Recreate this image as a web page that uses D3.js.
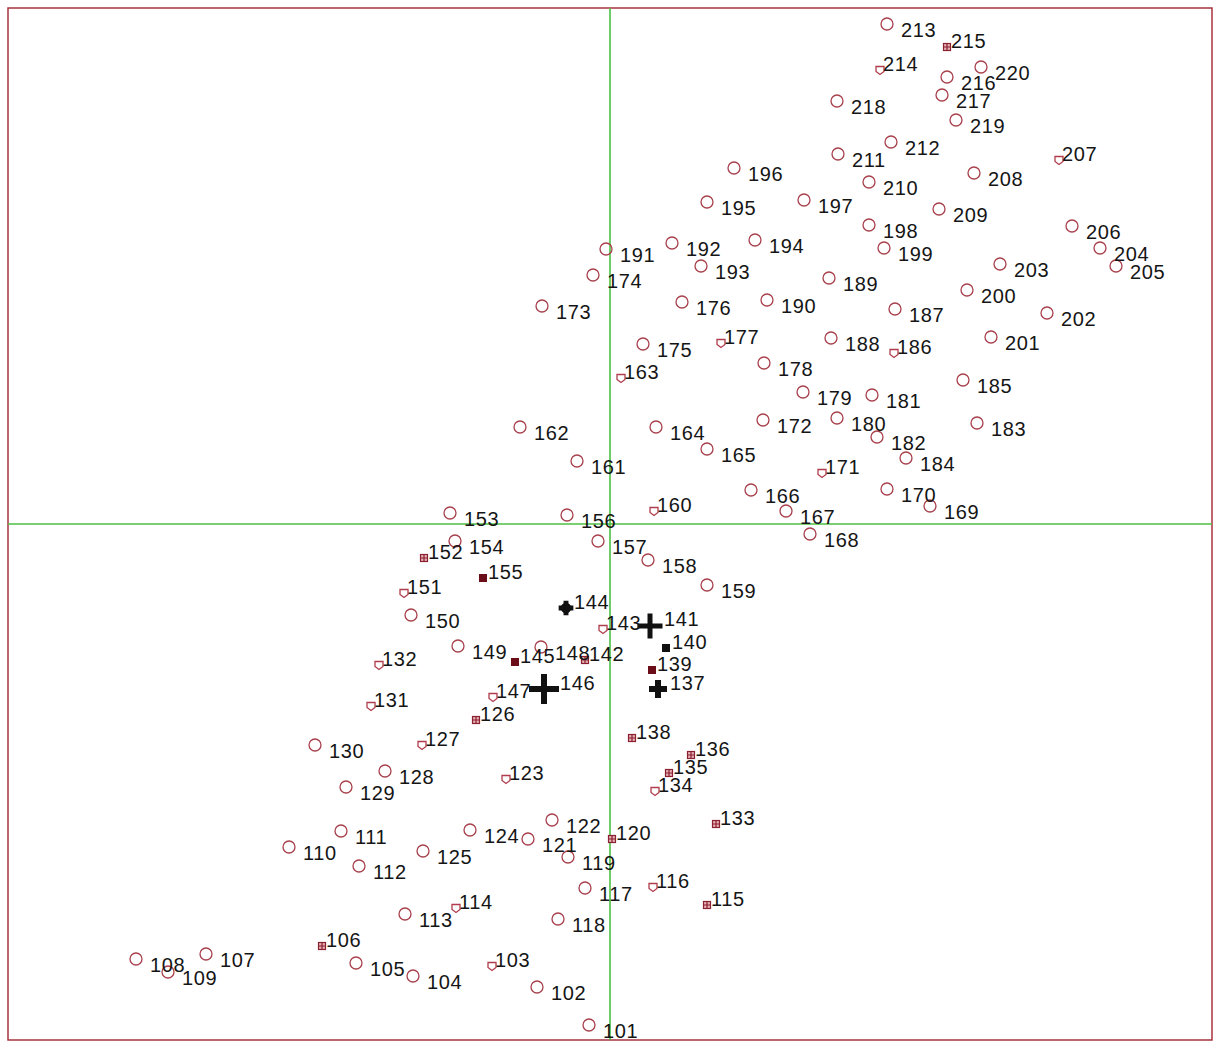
<!DOCTYPE html>
<html>
<head>
<meta charset="utf-8">
<script src="https://cdn.jsdelivr.net/npm/d3@7/dist/d3.min.js"></script>
<style>
  body { margin: 0; background: #fff; }
  .lbl { font-family: "Liberation Sans", Arial, sans-serif; font-size: 20px; fill: #151515; letter-spacing: 0.6px; }
</style>
</head>
<body>
<div class="chart"></div>
<script>
var svgWidth = 1217;
var svgHeight = 1041;

var margin = { top: 8, right: 5, bottom: 1, left: 8 };
var width = svgWidth - margin.left - margin.right;
var height = svgHeight - margin.top - margin.bottom;

// point ids (101..220)
var ids = d3.range(101, 221);

// x coordinates, one per id
var xVals = [
  -0.21, -0.73, -1.18, -1.97, -2.54, -2.88, -4.04, -4.74, -4.42, -3.21,
  -2.69, -2.51, -2.05, -1.54,  0.97,  0.43, -0.25, -0.52, -0.42,  0.02,
  -0.82, -0.58, -1.04, -1.40, -1.87, -1.34, -1.88, -2.25, -2.64, -2.95,
  -2.39, -2.31,  1.06,  0.45,  0.59,  0.81,  0.48,  0.22,  0.42,  0.56,
   0.40, -0.25, -0.07, -0.44, -0.95, -0.66, -1.17, -0.69, -1.52, -1.99,
  -2.06, -1.86, -1.60, -1.55, -1.27, -0.43, -0.12,  0.38,  0.97,  0.44,
  -0.33, -0.90,  0.11,  0.46,  0.97,  1.41,  1.76,  2.00,  3.20,  2.77,
   2.12,  1.53, -0.68, -0.17,  0.33,  0.72,  1.11,  1.54,  1.93,  2.27,
   2.62,  2.67,  3.67,  2.96,  3.53,  2.84,  2.85,  2.21,  2.19,  1.57,
  -0.04,  0.62,  0.91,  1.45,  0.97,  1.24,  1.94,  2.59,  2.74,  3.57,
   3.81,  4.37,  3.90,  4.90,  5.06,  4.62,  4.49,  3.64,  3.29,  2.59,
   2.28,  2.81,  2.77,  2.70,  3.37,  3.37,  3.32,  2.27,  3.46,  3.71
];

// y coordinates, one per id
var yVals = [
  -5.01, -4.63, -4.42, -4.52, -4.39, -4.22, -4.30, -4.35, -4.48, -3.23,
  -3.07, -3.42, -3.90, -3.84, -3.81, -3.63, -3.64, -3.95, -3.33, -3.15,
  -3.15, -2.96, -2.55, -3.06, -3.27, -1.96, -2.21, -2.47, -2.63, -2.21,
  -1.82, -1.41, -3.00, -2.67, -2.49, -2.31, -1.65, -2.14, -1.46, -1.24,
  -1.02, -1.36, -1.05, -0.84, -1.38, -1.65, -1.73, -1.23, -1.22, -0.91,
  -0.69, -0.34,  0.11, -0.17, -0.54,  0.09, -0.17, -0.36, -0.61,  0.13,
   0.63,  0.97,  1.46,  0.97,  0.75,  0.34,  0.13, -0.10,  0.18,  0.35,
   0.51,  1.04,  2.18,  2.49,  1.80,  2.22,  1.81,  1.61,  1.32,  1.06,
   1.29,  0.87,  1.01,  0.66,  1.44,  1.71,  2.15,  1.86,  2.46,  2.24,
   2.75,  2.81,  2.58,  2.84,  3.22,  3.56,  3.24,  2.99,  2.76,  2.34,
   1.87,  2.11,  2.60,  2.76,  2.58,  2.98,  3.64,  3.51,  3.15,  3.42,
   3.70,  3.82,  5.00,  4.54,  4.77,  4.47,  4.29,  4.23,  4.04,  4.57
];

// marker kind per id: c circle, s open square, x crossed square, f filled square,
// d black square, b black blob, pS/pM/pL black plus (small/medium/large)
var kinds = [
  "c","c","s","c","c","x","c","c","c","c",
  "c","c","c","s","x","s","c","c","c","x",
  "c","c","s","c","c","x","s","c","c","c",
  "s","s","x","s","x","x","pS","x","f","d",
  "pM","x","s","b","f","pL","s","c","c","c",
  "s","x","c","c","f","c","c","c","c","s",
  "c","c","s","c","c","c","c","c","c","c",
  "s","c","c","c","c","c","s","c","c","c",
  "c","c","c","c","c","s","c","c","c","c",
  "c","c","c","c","c","c","c","c","c","c",
  "c","c","c","c","c","c","s","c","c","c",
  "c","c","c","s","x","c","c","c","c","c"
];

var points = ids.map(function(id, i) {
  return { id: id, x: xVals[i], y: yVals[i], kind: kinds[i] };
});

var svg = d3.select(".chart")
  .append("svg")
  .attr("width", svgWidth)
  .attr("height", svgHeight);

svg.append("rect")
  .attr("width", svgWidth)
  .attr("height", svgHeight)
  .attr("fill", "#fff");

var chartGroup = svg.append("g")
  .attr("transform", `translate(${margin.left}, ${margin.top})`);

// scales
var xScale = d3.scaleLinear()
  .domain([-6.02, 6.02])
  .range([0, width]);

var yScale = d3.scaleLinear()
  .domain([-5.16, 5.16])
  .range([height, 0]);

// frame
chartGroup.append("rect")
  .attr("x", 0)
  .attr("y", 0)
  .attr("width", width)
  .attr("height", height)
  .attr("fill", "none")
  .attr("stroke", "#a8323f")
  .attr("stroke-width", 1.5);

// zero lines
chartGroup.append("line")
  .attr("x1", xScale(0)).attr("x2", xScale(0))
  .attr("y1", 0).attr("y2", height)
  .attr("stroke", "#4cc040")
  .attr("stroke-width", 1.6);

chartGroup.append("line")
  .attr("x1", 0).attr("x2", width)
  .attr("y1", yScale(0)).attr("y2", yScale(0))
  .attr("stroke", "#4cc040")
  .attr("stroke-width", 1.6);

// marker drawing
var markers = chartGroup.selectAll("g.pt")
  .data(points)
  .enter()
  .append("g")
  .attr("class", "pt")
  .attr("transform", d => `translate(${xScale(d.x)}, ${yScale(d.y)})`);

markers.each(function(d) {
  var g = d3.select(this);
  if (d.kind === "c") {
    g.append("circle")
      .attr("r", 6)
      .attr("fill", "none")
      .attr("stroke", "#a8404c")
      .attr("stroke-width", 1.3);
  } else if (d.kind === "s") {
    g.append("path")
      .attr("d", "M-4,-3.5H4V1.5L0,4.5L-4,1.5Z")
      .attr("fill", "none")
      .attr("stroke", "#b03c4c")
      .attr("stroke-width", 1.3);
  } else if (d.kind === "x") {
    g.append("rect")
      .attr("x", -3.5).attr("y", -3.5)
      .attr("width", 7).attr("height", 7)
      .attr("fill", "#e6b0b6")
      .attr("stroke", "#8a2030")
      .attr("stroke-width", 1.2);
    g.append("path")
      .attr("d", "M-3.5,0H3.5M0,-3.5V3.5")
      .attr("stroke", "#8a2030")
      .attr("stroke-width", 1.2);
  } else if (d.kind === "f") {
    g.append("rect")
      .attr("x", -4).attr("y", -4)
      .attr("width", 8).attr("height", 8)
      .attr("fill", "#6a0d18");
  } else if (d.kind === "d") {
    g.append("rect")
      .attr("x", -4).attr("y", -4)
      .attr("width", 8).attr("height", 8)
      .attr("fill", "#111");
  } else if (d.kind === "b") {
    g.append("circle")
      .attr("r", 5.2)
      .attr("fill", "#111");
    g.append("path")
      .attr("d", d3.symbol(d3.symbolCross, 120))
      .attr("fill", "#111");
  } else {
    var half = { pS: 9, pM: 12.5, pL: 15 }[d.kind];
    var thick = { pS: 6, pM: 5, pL: 6 }[d.kind];
    g.append("path")
      .attr("d", `M${-half},0H${half}M0,${-half}V${half}`)
      .attr("stroke", "#111")
      .attr("stroke-width", thick);
  }
});

// labels
var labelDx = { c: 14, s: 3, x: 4, f: 5, d: 6, b: 8, pS: 12, pM: 14, pL: 16 };
var labelDy = { c: 13, s: 1, x: 1, f: 1, d: 1, b: 1, pS: 1, pM: 0, pL: 1 };

chartGroup.selectAll("text.lbl")
  .data(points)
  .enter()
  .append("text")
  .attr("class", "lbl")
  .attr("x", d => xScale(d.x) + labelDx[d.kind])
  .attr("y", d => yScale(d.y) + labelDy[d.kind])
  .text(d => d.id);
</script>
</body>
</html>
